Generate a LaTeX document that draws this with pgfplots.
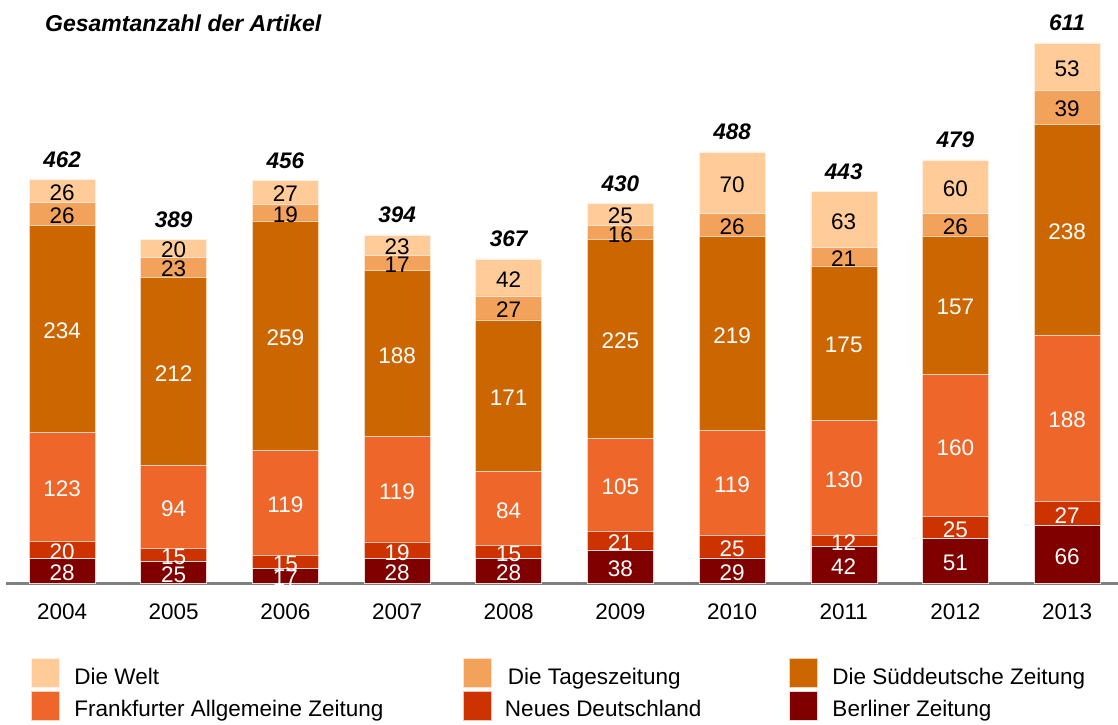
\documentclass[border=0pt]{standalone}
\usepackage{pgfplots}
\pgfplotsset{compat=1.18}
\usepackage{pgfplotstable}
\usepackage{fontspec}
\setmainfont{Liberation Sans}
\definecolor{cWelt}{HTML}{FFCC99}
\definecolor{cTaz}{HTML}{F3A25C}
\definecolor{cSz}{HTML}{CC6600}
\definecolor{cFaz}{HTML}{EE6629}
\definecolor{cNd}{HTML}{CC3300}
\definecolor{cBer}{HTML}{800000}

\pgfplotstableread{
x ber nd faz sz taz welt
0 28 20 123 234 26 26
1 25 15 94 212 23 20
2 17 15 119 259 19 27
3 28 19 119 188 17 23
4 28 15 84 171 27 42
5 38 21 105 225 16 25
6 29 25 119 219 26 70
7 42 12 130 175 21 63
8 51 25 160 157 26 60
9 66 27 188 238 39 53
}\data

\pgfplotstableread{
x sum tot
0 457 462
1 389 389
2 456 456
3 394 394
4 367 367
5 430 430
6 488 488
7 443 443
8 479 479
9 611 611
}\totals

\newcommand\lt[3]{\makebox[#1][l]{\hspace{#2}\raisebox{-12bp}[0pt][0pt]{#3}}}

\pgfplotsset{
  midlabel/.style={
    nodes near coords={\pgfmathprintnumber[assume math mode=true]{\pgfplotspointmeta}},
    point meta=explicit,
    every node near coord/.append style={
      anchor=center, inner sep=0pt, yshift=-2bp,
      font=\fontsize{22.5bp}{26bp}\selectfont, text=#1
    }
  },
  common/.style={
    at={(6.2bp,141.5bp)}, anchor=south west,
    scale only axis, width=1112.2bp, height=583.5bp,
    xmin=-0.5, xmax=9.46, ymin=0, ymax=659.6,
    clip=false,
  }
}

\begin{document}
\begin{tikzpicture}
\useasboundingbox (0,0) rectangle (1118bp,725bp);
\node[anchor=base west, inner sep=0pt, font=\fontsize{23bp}{27bp}\selectfont\bfseries\itshape] at (45bp,693bp) {Gesamtanzahl der Artikel};
\begin{axis}[
  common,
  ybar stacked, bar width=66bp,
  axis x line*=bottom, axis y line=none,
  x axis line style={draw=black!50, line width=2.2bp, -},
  xtick={0,...,9},
  xticklabels={2004,2005,2006,2007,2008,2009,2010,2011,2012,2013},
  major tick length=0pt,
  xticklabel style={inner sep=0pt, anchor=north, yshift=-20.5bp, font=\fontsize{22.5bp}{26bp}\selectfont},
  ytick=\empty,
  reverse legend,
  legend columns=3,
  legend cell align=left,
  legend style={at={(0.0223,-0.1277)}, anchor=north west, draw=none, fill=none,
    inner sep=0pt, outer sep=0pt, row sep=3bp, column sep=0pt,
    nodes={inner sep=0pt, outer sep=0pt, anchor=west},
    font=\fontsize{22.5bp}{26bp}\selectfont},
  legend image code/.code={\fill[#1] (0bp,-14.5bp) rectangle (28bp,14.5bp);},
]
\addplot[fill=cBer, draw=white!85!cBer, line width=0.5bp, midlabel=white] table[x=x, y=ber, meta=ber] {\data};
\addlegendentry{\lt{276bp}{15bp}{Berliner Zeitung}}
\addplot[fill=cNd, draw=white!70!cNd, line width=0.5bp, midlabel=white] table[x=x, y=nd, meta=nd] {\data};
\addlegendentry{\lt{297bp}{13bp}{Neues Deutschland}}
\addplot[fill=cFaz, draw=white!70!cFaz, line width=0.5bp, midlabel=white] table[x=x, y=faz, meta=faz] {\data};
\addlegendentry{\lt{404bp}{15bp}{Frankfurter Allgemeine Zeitung}}
\addplot[fill=cSz, draw=white!70!cSz, line width=0.5bp, midlabel=white] table[x=x, y=sz, meta=sz] {\data};
\addlegendentry{\lt{276bp}{15bp}{Die Süddeutsche Zeitung}}
\addplot[fill=cTaz, draw=white!70!cTaz, line width=0.5bp, midlabel=black] table[x=x, y=taz, meta=taz] {\data};
\addlegendentry{\lt{297bp}{16bp}{Die Tageszeitung}}
\addplot[fill=cWelt, draw=white!70!cWelt, line width=0.5bp, midlabel=black] table[x=x, y=welt, meta=welt] {\data};
\addlegendentry{\lt{404bp}{15bp}{Die Welt}}
\end{axis}
\begin{axis}[common, hide axis]
\addplot[only marks, mark=*, mark size=0.01pt, mark options={draw=white, fill=white},
  nodes near coords={\pgfmathprintnumber[assume math mode=true]{\pgfplotspointmeta}},
  point meta=explicit,
  every node near coord/.style={anchor=base, yshift=12bp, inner sep=0pt,
    font=\fontsize{22.5bp}{26bp}\selectfont\bfseries\itshape, text=black}]
  table[x=x, y=sum, meta=tot] {\totals};
\end{axis}
\end{tikzpicture}
\end{document}
